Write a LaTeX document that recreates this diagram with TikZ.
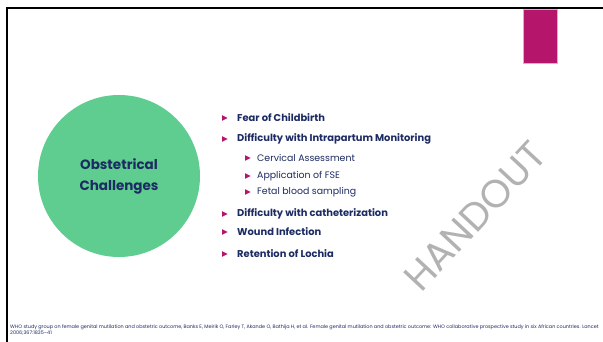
\documentclass[tikz,border=0pt]{standalone}
\usepackage{fontspec}
\setmainfont{Poppins}
\usetikzlibrary{positioning}
\definecolor{slidemagenta}{HTML}{B5166B}
\definecolor{circlegreen}{HTML}{5ECD8F}
\definecolor{navytext}{HTML}{1D2B63}
\def\bulletsize{2.8}
\tikzset{
  mainitem/.style={anchor=west, inner sep=0pt, text=navytext, font=\bfseries\fontsize{9.9}{11}\selectfont},
  subitem/.style={anchor=west, inner sep=0pt, text=navytext, font=\fontsize{9.4}{11}\selectfont},
}

\begin{document}
\begin{tikzpicture}[x=1pt,y=-1pt]
      \useasboundingbox (0,0) rectangle (603,342);
      \fill[white] (0,0) rectangle (603,342);

      % frame and tab
      \draw[line width=2.4pt] (7,342) -- (7,8) -- (603,8);
      \fill[slidemagenta, draw=gray!50, line width=0.5pt] (523,9.2) rectangle (557,63);

      % circle
      \node[circle, fill=circlegreen, minimum size=162pt, inner sep=0pt] (hub) at (119,176) {};
      \node[align=center, text=navytext, font=\bfseries\fontsize{13.5}{21}\selectfont] (hubtext) at (hub) {Obstetrical\\Challenges};

      % list
      \node[mainitem] (fear) at (237,118) {Fear of Childbirth};
      \node[mainitem] (intra) at (237,139) {Difficulty with Intrapartum Monitoring};
      \node[subitem] (cervix) at (257,158) {Cervical Assessment};
      \node[subitem] (fse) at (257,176) {Application of FSE};
      \node[subitem] (blood) at (257,192) {Fetal blood sampling};
      \node[mainitem] (cath) at (237,214) {Difficulty with catheterization};
      \node[mainitem] (wound) at (237,232) {Wound Infection};
      \node[mainitem] (lochia) at (237,254) {Retention of Lochia};

      \foreach \n in {fear,intra,cath,wound,lochia} {
        \fill[slidemagenta] ([xshift=-15pt]\n.west) ++(0,-\bulletsize) -- ++(5.5,\bulletsize) -- ++(-5.5,\bulletsize) -- cycle;
      }
      \foreach \n in {cervix,fse,blood} {
        \fill[slidemagenta] ([xshift=-12pt]\n.west) ++(0,-\bulletsize) -- ++(5.5,\bulletsize) -- ++(-5.5,\bulletsize) -- cycle;
      }

      % watermark
      \node[text=gray!60, rotate=47, font=\fontsize{39}{39}\selectfont] (stamp) at (475,216) {HANDOUT};

      % reference
      \node[anchor=north west, inner sep=0pt, align=left, text=navytext, font=\fontsize{4.9}{6}\selectfont] (source) at (10,325)
        {WHO study group on female genital mutilation and obstetric outcome, Banks E, Meirik O, Farley T, Akande O, Bathija H, et al. Female genital mutilation and obstetric outcome: WHO collaborative prospective study in six African countries. Lancet\\2006;367:1835--41};
    \end{tikzpicture}
\end{document}
